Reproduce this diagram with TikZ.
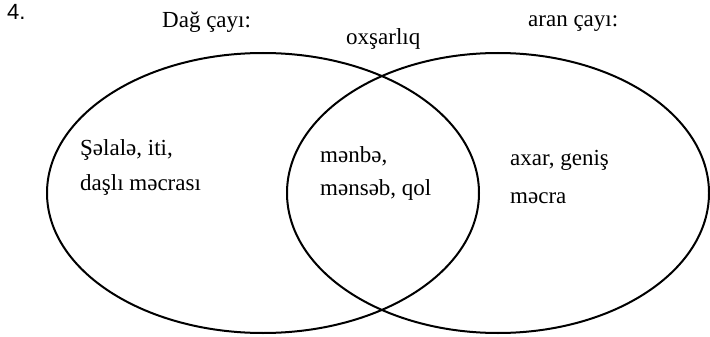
\documentclass[tikz,border=0pt]{standalone}
\usepackage{fontspec}
\setmainfont{Liberation Serif}
\newfontfamily\numfont{Liberation Sans}
\usetikzlibrary{shapes.geometric}

\begin{document}
\begin{tikzpicture}[x=1pt, y=-1pt,
    circ/.style={draw, ellipse, line width=2pt, inner sep=0pt},
    lbl/.style={anchor=base west, inner sep=0pt, font=\fontsize{23}{28}\selectfont},
    txt/.style={anchor=base west, inner sep=0pt, align=left, font=\fontsize{23}{#1}\selectfont}
  ]
    \useasboundingbox (0,0) rectangle (710,337);
    % the two sets
    \node[circ, minimum width=432pt, minimum height=280pt] (dag) at (263,193) {};
    \node[circ, minimum width=422pt, minimum height=280pt] (aran) at (498,193) {};
    % headings
    \node[anchor=base west, inner sep=0pt, font=\numfont\fontsize{22}{26}\selectfont] (num) at (7,20) {4.};
    \node[lbl] (dagT) at (162,28) {Dağ çayı:};
    \node[lbl] (oxs) at (346,45) {oxşarlıq};
    \node[lbl] (aranT) at (528,27) {aran çayı:};
    % contents (anchored at the last line)
    \node[txt=35] (dagX) at (80,190) {Şəlalə, iti,\\daşlı məcrası};
    \node[txt=33] (ortaq) at (320,195) {mənbə,\\mənsəb, qol};
    \node[txt=38] (aranX) at (510,203) {axar, geniş\\məcra};
\end{tikzpicture}
\end{document}
